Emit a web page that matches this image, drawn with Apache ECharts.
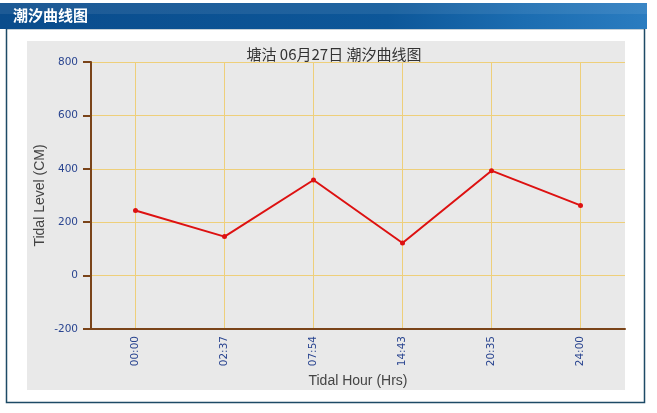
<!DOCTYPE html>
<html><head><meta charset="utf-8">
<script src="https://cdn.jsdelivr.net/npm/echarts@6/dist/echarts.min.js"></script>
<style>html,body{margin:0;padding:0;background:#fff;}#c{width:657px;height:413px;}</style>
</head><body><div id="c"></div>
<script>
const categories = ['00:00','02:37','07:54','14:43','20:35','24:00'];
const tideLevels = [244, 146, 358, 122, 393, 263];
const yTicks = { min: -200, max: 800, interval: 200 };
const chartTitle = '塘沽 06月27日 潮汐曲线图';
const headerText = '潮汐曲线图';

const chart = echarts.init(document.getElementById('c'), null, {renderer:'canvas'});
chart.setOption({
  animation: false,
  backgroundColor: '#fff',
  graphic: [
    { type:'rect', shape:{x:6.5,y:28.5,width:638,height:374}, style:{fill:'#fff', stroke:'#1d4a66', lineWidth:1.5}, z:-10 },
    { type:'rect', shape:{x:0,y:3,width:647,height:26},
      style:{fill:new echarts.graphic.LinearGradient(0,0,1,0,[
        {offset:0,color:'#0a4c8c'},{offset:0.6,color:'#0d5799'},{offset:0.8,color:'#1b6cb0'},{offset:1,color:'#2a7cc0'}])}, z:-9 },
    { type:'rect', shape:{x:0,y:3,width:647,height:11}, style:{fill:'rgba(255,255,255,0.08)'}, z:-8 },
    { type:'text', x:13, y:8, style:{text:headerText, fill:'#fff', font:'bold 15px "Noto Sans CJK SC"'}, z:-7 },
    { type:'rect', shape:{x:27,y:41,width:598,height:349}, style:{fill:'#e9e9e9'}, z:-6 }
  ],
  title: { text: chartTitle, left: 329, top: 42, textAlign:'center',
    textStyle:{ fontSize:15, fontWeight:'normal', color:'#333', fontFamily:'"Noto Sans CJK SC"' } },
  grid: { left: 91, right: 32, top: 62, bottom: 84 },
  xAxis: {
    type:'category', data: categories, boundaryGap: true,
    name:'Tidal Hour (Hrs)', nameLocation:'middle', nameGap: 45, nameMoveOverlap: false,
    nameTextStyle:{ fontSize:14, color:'#444', fontFamily:'"Liberation Sans"' },
    axisLine:{ onZero:false, lineStyle:{ color:'#7a4419', width:2 } },
    axisTick:{ alignWithLabel:true, length:5, lineStyle:{ color:'#7a4419', width:2 } },
    axisLabel:{ rotate:90, margin:7, fontSize:10.5, color:'#2a4590', fontFamily:'"DejaVu Sans"' },
    splitLine:{ show:true, interval:0, alignWithLabel:true, lineStyle:{ color:'#eecf7a', width:1 } }
  },
  yAxis: {
    type:'value', min:yTicks.min, max:yTicks.max, interval:yTicks.interval,
    name:'Tidal Level (CM)', nameLocation:'middle', nameGap: 44, nameMoveOverlap: false,
    nameTextStyle:{ fontSize:14, color:'#444', fontFamily:'"Liberation Sans"' },
    axisLine:{ show:true, lineStyle:{ color:'#7a4419', width:2 } },
    axisTick:{ show:true, length:8, lineStyle:{ color:'#7a4419', width:2 } },
    axisLabel:{ margin:13, fontSize:10.5, color:'#2a4590', fontFamily:'"DejaVu Sans"' },
    splitLine:{ show:true, lineStyle:{ color:'#eecf7a', width:1 } }
  },
  series: [{
    type:'line', data: tideLevels, symbol:'circle', symbolSize:5,
    lineStyle:{ color:'#dd1111', width:2 }, itemStyle:{ color:'#dd1111' }
  }]
});
</script></body></html>
